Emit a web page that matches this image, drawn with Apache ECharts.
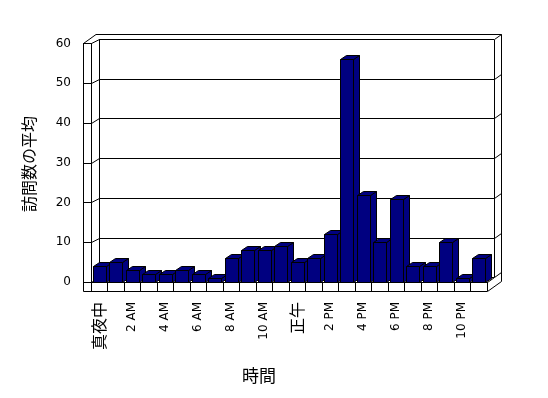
<!DOCTYPE html>
<html><head><meta charset="utf-8">
<script src="https://cdn.jsdelivr.net/npm/echarts@6/dist/echarts.min.js"></script>
<style>html,body{margin:0;padding:0;background:#fff}#c{width:548px;height:398px}</style>
</head><body><div id="c"></div>
<script>
// ---- data ----
const categories = ['真夜中','1 AM','2 AM','3 AM','4 AM','5 AM','6 AM','7 AM','8 AM','9 AM','10 AM','11 AM',
  '正午','1 PM','2 PM','3 PM','4 PM','5 PM','6 PM','7 PM','8 PM','9 PM','10 PM','11 PM'];
const visits = [4,5,3,2,2,3,2,1,6,8,8,9,5,6,12,56,22,10,21,4,4,10,1,6];
const yTicks = [0,10,20,30,40,50,60];
const yTitle = '訪問数の平均';
const xTitle = '時間';

// ---- layout ----
const FRONT = {left:91, top:43.5, width:396, height:238.5};
const BACK  = {left:99, top:39, width:395, height:238.5};
const yMax = 60;
const BAR_DX = 6, BAR_DY = 4;
const NAVY = '#000080';

function crisp(p){ const d=Math.round(p*2); return (d+1)%2===0 ? d/2 : (d+1)/2; }
const fy = v => FRONT.top + FRONT.height*(1 - v/yMax);
const by = v => BACK.top + BACK.height*(1 - v/yMax);
const FL = crisp(FRONT.left), FR = crisp(FRONT.left+FRONT.width);
const BL = crisp(BACK.left), BR = crisp(BACK.left+BACK.width);
const OUTL = FL - 8, OUTR = BR + 7, OUTT = crisp(by(yMax)) - 5;
const FLOORB = crisp(fy(0)) + 9;

function L(x1,y1,x2,y2){ return {type:'line', silent:true, z:1, shape:{x1,y1,x2,y2}, style:{stroke:'#000', lineWidth:1}}; }
const frame = [];
yTicks.forEach(v => {
  frame.push(L(FL, crisp(fy(v)), BL, crisp(by(v))));          // left wall inner diagonal
  frame.push(L(BR, crisp(by(v)), OUTR, crisp(by(v))-5));      // right wall diagonal
});
frame.push(L(OUTL, crisp(fy(yMax)), OUTL, FLOORB));            // left outer
frame.push(L(OUTL, crisp(fy(yMax)), OUTL+12.5, OUTT));         // left top diagonal
frame.push(L(OUTL+12.5, OUTT, OUTR, OUTT));                    // top outer
frame.push(L(BL, crisp(by(yMax)), BL, crisp(by(0))));          // back left
frame.push(L(BR, crisp(by(yMax)), BR, crisp(by(0))));          // back right
frame.push(L(OUTR, OUTT, OUTR, FLOORB-10));                    // right outer
frame.push(L(FR, FLOORB, OUTR, FLOORB-10));                    // bottom right diagonal
frame.push(L(FR, crisp(fy(0)), BR, crisp(by(0))));             // floor right diagonal
frame.push(L(OUTL, FLOORB, FR, FLOORB));                       // floor bottom
frame.push({type:'text', silent:true, x:29, y:164, rotation:Math.PI/2,
  style:{text:yTitle, fontFamily:'Noto Sans CJK JP', fontSize:16, fill:'#000', align:'center', verticalAlign:'middle', textAlign:'center', textVerticalAlign:'middle'}});
frame.push({type:'text', silent:true, x:259, y:376,
  style:{text:xTitle, fontFamily:'Noto Sans CJK JP', fontSize:17, fill:'#000', align:'center', verticalAlign:'middle', textAlign:'center', textVerticalAlign:'middle'}});

function renderBar(params, api){
  const i = api.value(0), v = api.value(1);
  const t = api.coord([i, v]), b = api.coord([i, 0]);
  const band = api.size([1,0])[0];
  const w = Math.round(band*0.81);
  const x0 = Math.floor(t[0] - w/2 + 0.5) + 0.5, x1 = x0 + w;
  const yT = Math.round(t[1]) + 0.5, yB = Math.round(b[1]) + 0.5;
  const st = {fill:NAVY, stroke:'#000', lineWidth:1};
  return {type:'group', children:[
    {type:'polygon', shape:{points:[[x1,yT],[x1+BAR_DX,yT-BAR_DY],[x1+BAR_DX,yB-BAR_DY],[x1,yB]]}, style:st},
    {type:'polygon', shape:{points:[[x0,yT],[x1,yT],[x1+BAR_DX,yT-BAR_DY],[x0+BAR_DX,yT-BAR_DY]]}, style:st},
    {type:'rect', shape:{x:x0, y:yT, width:w, height:yB-yT}, style:st}
  ]};
}

const chart = echarts.init(document.getElementById('c'), null, {renderer:'canvas'});
chart.setOption({
  animation:false,
  backgroundColor:'#fff',
  grid:[Object.assign({containLabel:false}, FRONT), Object.assign({containLabel:false}, BACK)],
  xAxis:[
    {type:'category', gridIndex:0, data:categories, boundaryGap:true,
     axisLine:{lineStyle:{color:'#000', width:1}},
     axisTick:{show:true, interval:0, length:9, lineStyle:{color:'#000'}},
     axisLabel:{interval:1, rotate:90, margin:20, color:'#000', fontFamily:'DejaVu Sans', fontSize:12,
       formatter: s => /[^\x00-\x7F]/.test(s) ? '{c|'+s+'}' : s,
       rich:{c:{fontFamily:'Noto Sans CJK JP', fontSize:16, color:'#000'}}},
     splitLine:{show:false}},
    {type:'category', gridIndex:1, data:categories, show:false}
  ],
  yAxis:[
    {type:'value', gridIndex:0, min:0, max:yMax, interval:10,
     axisLine:{show:true, lineStyle:{color:'#000'}},
     axisTick:{show:true, length:8, inside:false, lineStyle:{color:'#000'}},
     axisLabel:{margin:20, color:'#000', fontFamily:'DejaVu Sans', fontSize:12},
     splitLine:{show:false}},
    {type:'value', gridIndex:1, min:0, max:yMax, interval:10,
     axisLine:{show:false}, axisTick:{show:false}, axisLabel:{show:false},
     splitLine:{show:true, lineStyle:{color:'#000', width:1}}}
  ],
  graphic: frame,
  series:[{type:'custom', xAxisIndex:0, yAxisIndex:0, renderItem:renderBar, z:5,
    data: visits.map((v,i)=>[i,v]), encode:{x:0, y:1}}]
});
</script></body></html>
